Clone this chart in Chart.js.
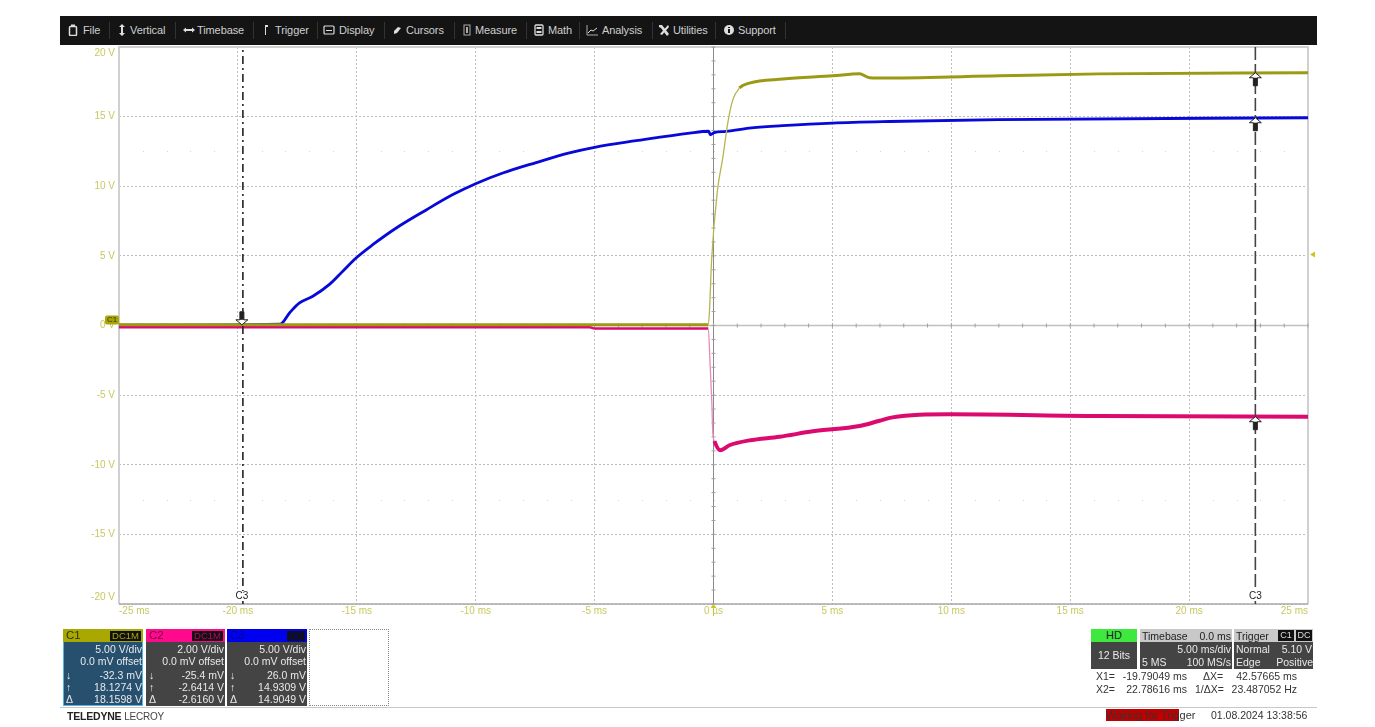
<!DOCTYPE html>
<html>
<head>
<meta charset="utf-8">
<title>Scope</title>
<script src="https://cdn.jsdelivr.net/npm/chart.js@4/dist/chart.umd.min.js"></script>
<style>
html,body{margin:0;padding:0;background:#fff;width:1375px;height:727px;overflow:hidden;font-family:"Liberation Sans",Arial,sans-serif;}
#chartBox{position:absolute;left:0;top:0;width:1375px;height:727px;}
.abs{position:absolute;white-space:nowrap;font-size:10.5px;line-height:12px;}
#bar{position:absolute;left:60px;top:16px;width:1257px;height:29px;background:#141414;color:#cfcfcf;font-size:11px;letter-spacing:-0.1px;}
#bar span{position:absolute;top:8px;}
#bar i{position:absolute;top:6px;width:1px;height:17px;background:#333;}
#bar svg{position:absolute;top:8px;width:12px;height:12px;}
.ch{position:absolute;top:629px;height:77px;background:#444;color:#e8e8e8;font-size:10.5px;line-height:12px;}
.ch .hd{position:absolute;left:0;top:0;width:100%;height:13px;font-size:11.5px;line-height:13px;}
.ch .hd b{position:absolute;left:3px;font-weight:normal;}
.ch .hd u{position:absolute;right:2px;top:2px;height:10px;line-height:10px;background:#111;font-size:9.5px;text-decoration:none;padding:0 2px;}
.ch div.r{position:absolute;right:1px;}
.ch div.l{position:absolute;left:3px;}
.sep{position:absolute;height:1px;background:#c8c8c8;top:707px;}
.box{position:absolute;background:#444;}
</style>
</head>
<body>
<div id="chartBox"><canvas id="scope" width="1375" height="727"></canvas></div>
<div id="bar"></div>
<div class="sep" style="left:60px;width:1257px"></div>
<div id="chans"></div>
<div class="abs" style="left:309px;top:629px;width:78px;height:75px;border:1px dotted #888"></div>
<div class="abs" style="left:67px;top:710px;color:#222;letter-spacing:-0.2px"><b>TELEDYNE</b> <span style="color:#444;font-size:10px">LECROY</span></div>

<div class="abs" style="left:1091px;top:629px;width:46px;height:13px;background:#3fe83f;color:#222;font-size:11px;text-align:center;line-height:13px">HD</div>
<div class="box abs" style="left:1091px;top:642px;width:46px;height:27px;line-height:27px;text-align:center;color:#e8e8e8">12 Bits</div>
<div class="box" style="left:1140px;top:629px;width:92px;height:40px"></div>
<div class="abs" style="left:1140px;top:629px;width:92px;height:13px;background:#c8c8c8"></div>
<div class="abs" style="left:1142px;top:630px;color:#222">Timebase</div>
<div class="abs" style="right:144px;top:630px;color:#222">0.0 ms</div>
<div class="abs" style="right:144px;top:643px;color:#e8e8e8">5.00 ms/div</div>
<div class="abs" style="left:1142px;top:656px;color:#e8e8e8">5 MS</div>
<div class="abs" style="right:144px;top:656px;color:#e8e8e8">100 MS/s</div>
<div class="box" style="left:1234px;top:629px;width:79px;height:40px"></div>
<div class="abs" style="left:1234px;top:629px;width:79px;height:13px;background:#c8c8c8"></div>
<div class="abs" style="left:1236px;top:630px;color:#222">Trigger</div>
<div class="abs" style="left:1278px;top:630px;width:16px;height:11px;line-height:11px;background:#111;color:#ddd;font-size:9px;text-align:center">C1</div>
<div class="abs" style="left:1296px;top:630px;width:16px;height:11px;line-height:11px;background:#111;color:#ddd;font-size:9px;text-align:center">DC</div>
<div class="abs" style="left:1236px;top:643px;color:#e8e8e8">Normal</div>
<div class="abs" style="right:63px;top:643px;color:#e8e8e8">5.10 V</div>
<div class="abs" style="left:1236px;top:656px;color:#e8e8e8">Edge</div>
<div class="abs" style="right:62px;top:656px;color:#e8e8e8">Positive</div>
<div class="abs" style="left:1096px;top:670px;color:#333">X1=</div>
<div class="abs" style="right:188px;top:670px;color:#333">-19.79049 ms</div>
<div class="abs" style="left:1203px;top:670px;color:#333">ΔX=</div>
<div class="abs" style="right:78px;top:670px;color:#333">42.57665 ms</div>
<div class="abs" style="left:1096px;top:683px;color:#333">X2=</div>
<div class="abs" style="right:188px;top:683px;color:#333">22.78616 ms</div>
<div class="abs" style="left:1195px;top:683px;color:#333">1/ΔX=</div>
<div class="abs" style="right:78px;top:683px;color:#333">23.487052 Hz</div>
<div class="abs" style="left:1106px;top:709px;width:73px;height:12px;background:#c00000"></div>
<div class="abs" style="left:1106px;top:709px;font-size:11px;color:#333">Waiting for Trigger</div>
<div class="abs" style="left:1211px;top:709px;color:#333">01.08.2024 13:38:56</div>

<script>
// tick labels
const xTicks=[-25,-20,-15,-10,-5,0,5,10,15,20,25];
const xTickLabels=['-25 ms','-20 ms','-15 ms','-10 ms','-5 ms','0 µs','5 ms','10 ms','15 ms','20 ms','25 ms'];
const yTicks=[20,15,10,5,0,-5,-10,-15,-20];

// traces, [ms, V]
const c1T=[-25,-15,-5,-0.22,-0.17,-0.08,0.17,0.39,0.6,0.81,1.09,1.51,2.92,5.02,6.14,6.56,7.4,12,16.2,25];
const c1V=[0.05,0.05,0.05,0.05,1,4.7,9.75,12.03,14.54,16.2,17.05,17.41,17.7,17.93,18.08,17.8,17.77,17.93,18.07,18.15];
const c2T=[-25,-15,-5.2,-5,-0.22,-0.14,-0.07,-0.03,0.04,0.28,0.67,1.51,2.78,4.18,6.14,6.98,7.53,8.66,9.9,16.2,25];
const c2V=[-0.12,-0.12,-0.12,-0.22,-0.22,-2.9,-5.55,-7.7,-8.3,-8.95,-8.6,-8.25,-7.99,-7.6,-7.22,-6.84,-6.6,-6.41,-6.38,-6.5,-6.55];
const c3T=[-25,-18.22,-17.83,-17.41,-16.85,-16.15,-15.59,-15.03,-14.33,-13.34,-12.08,-10.96,-9.98,-8.86,-7.46,-6.06,-5,-3.25,-1,-0.2,-0.14,0.03,0.53,1.5,2.9,5,7.4,12,25];
const c3V=[0.02,0.1,0.9,1.62,2.1,2.95,3.9,4.85,5.8,7,8.3,9.4,10.2,10.95,11.7,12.4,12.8,13.27,13.82,13.95,13.7,13.85,13.94,14.18,14.35,14.54,14.65,14.78,14.92];

// cursors
const cursor1=-19.79049;
const cursor2=22.78616;
const cursorSpan=[-20,20];
const triggerLevel=5.10;

const chans=[
 {x:63,w:80,col:'#a8a800',ink:'#33330a',name:'C1',cp:'DC1M',bg:'#27506f',vals:['5.00 V/div','0.0 mV offset','-32.3 mV','18.1274 V','18.1598 V']},
 {x:146,w:79,col:'#ff0a8c',ink:'#7a0044',name:'C2',cp:'DC1M',bg:'#444',vals:['2.00 V/div','0.0 mV offset','-25.4 mV','-2.6414 V','-2.6160 V']},
 {x:227,w:80,col:'#0000f0',ink:'#000090',name:'C3',cp:'DC',bg:'#444',vals:['5.00 V/div','0.0 mV offset','26.0 mV','14.9309 V','14.9049 V']}
];
const menu=[['File',83],['Vertical',130],['Timebase',197],['Trigger',275],['Display',339],['Cursors',406],['Measure',475],['Math',548],['Analysis',602],['Utilities',673],['Support',738]];
const menuSeps=[109,175,253,317,384,454,526,579,652,715,785];
const menuIcons=[
 [67,'<rect x="2.5" y="2.5" width="7" height="9" rx="1" fill="none" stroke="#ddd" stroke-width="1.5"/><rect x="4" y="0.5" width="4" height="2" fill="#ddd"/>'],
 [116,'<path d="M6 0L9 3H7V9H9L6 12L3 9H5V3H3Z" fill="#ddd"/>'],
 [183,'<path d="M0 6L3 3.5V5H9V3.5L12 6L9 8.5V7H3V8.5Z" fill="#ddd"/>'],
 [260,'<path d="M5 1H8V3H6V11H5Z" fill="#ddd"/>'],
 [323,'<rect x="1" y="2" width="10" height="8" rx="1" fill="none" stroke="#ddd" stroke-width="1.2"/><rect x="3" y="6" width="6" height="1" fill="#ddd"/>'],
 [391,'<path d="M3 7L7 3L10 4L6 9L3 10Z" fill="#ddd"/>'],
 [461,'<rect x="3" y="1" width="6" height="10" fill="none" stroke="#aaa"/><rect x="5" y="3" width="2" height="6" fill="#aaa"/>'],
 [533,'<rect x="2" y="1" width="8" height="10" rx="1" fill="none" stroke="#ddd" stroke-width="1.3"/><rect x="3.5" y="3" width="5" height="2" fill="#ddd"/><rect x="3.5" y="7" width="5" height="2" fill="#ddd"/>'],
 [586,'<path d="M1 1V11H12" fill="none" stroke="#aaa"/><path d="M2 9L5 6L7 7L11 4" fill="none" stroke="#ddd"/>'],
 [658,'<path d="M1 1L4 1L11 10L9 12L3 4L1 3ZM10 1L11 3L4 11L2 10Z" fill="#ddd"/>'],
 [723,'<circle cx="6" cy="6" r="5" fill="#ddd"/><rect x="5" y="5" width="2" height="4" fill="#141414"/><rect x="5" y="3" width="2" height="1" fill="#141414"/>']
];

function buildHtml(){
  const bar=document.getElementById('bar');
  menu.forEach(m=>{const s=document.createElement('span');s.textContent=m[0];s.style.left=(m[1]-60)+'px';bar.appendChild(s);});
  menuSeps.forEach(v=>{const i=document.createElement('i');i.style.left=(v-60)+'px';bar.appendChild(i);});
  menuIcons.forEach(m=>{bar.insertAdjacentHTML('beforeend','<svg viewBox="0 0 12 12" style="left:'+(m[0]-60)+'px">'+m[1]+'</svg>');});
  const box=document.getElementById('chans');
  chans.forEach((c,n)=>{
    const d=document.createElement('div');d.className='ch';d.style.left=c.x+'px';d.style.width=c.w+'px';d.style.background=c.bg;
    if(n===0){d.style.boxShadow='inset 0 0 0 1px #55b5e5';}
    const tops=[14,26,40,52,64];
    let h='<div class="hd" style="background:'+c.col+';color:'+c.ink+'"><b>'+c.name+'</b><u style="color:'+(n===0?c.col:n===1?'#c00068':'#0000a0')+'">'+c.cp+'</u></div>';
    c.vals.forEach((v,i)=>{h+='<div class="r" style="top:'+tops[i]+'px">'+v+'</div>';});
    ['↓','↑','Δ'].forEach((v,i)=>{h+='<div class="l" style="top:'+tops[i+2]+'px">'+v+'</div>';});
    d.innerHTML=h;box.appendChild(d);
  });
}

function pts(t,v){return t.map((x,i)=>({x:x,y:v[i]}));}

// cursor arrow, tip on the trace
function arrow(ctx,x,y,up){
  const s=up?1:-1;
  ctx.beginPath();
  ctx.moveTo(x,y);ctx.lineTo(x-6,y+s*5);ctx.lineTo(x-2,y+s*5);ctx.lineTo(x-2,y+s*13);ctx.lineTo(x+2,y+s*13);ctx.lineTo(x+2,y+s*5);ctx.lineTo(x+6,y+s*5);ctx.closePath();
  ctx.fillStyle='#fff';ctx.fill();
  ctx.strokeStyle='#222';ctx.lineWidth=1;ctx.stroke();
  ctx.fillStyle='#222';ctx.fillRect(x-2,up?y+5:y-13,4,8);
}

const scopeExtras={
  id:'scopeExtras',
  beforeDatasetsDraw(chart){
    const {ctx,chartArea:a,scales:{x,y}}=chart;
    ctx.save();
    // faint dots on the +-12.5 V rows
    ctx.fillStyle='#d4d4d4';
    [12.5,-12.5].forEach(v=>{for(let t=-24;t<25;t+=1){ctx.fillRect(Math.round(x.getPixelForValue(t)),Math.round(y.getPixelForValue(v)),1,1);}});
    // frame
    ctx.strokeStyle='#d0d0d0';ctx.lineWidth=2;
    ctx.beginPath();ctx.moveTo(a.left,a.bottom);ctx.lineTo(a.left,a.top);ctx.lineTo(a.right,a.top);ctx.lineTo(a.right,a.bottom);ctx.stroke();
    ctx.strokeStyle='#aaa';ctx.lineWidth=1.5;
    ctx.beginPath();ctx.moveTo(a.left,a.bottom);ctx.lineTo(a.right,a.bottom);ctx.stroke();
    // centre cross
    const x0=x.getPixelForValue(0),y0=y.getPixelForValue(0);
    ctx.strokeStyle='#8a8a8a';ctx.lineWidth=1;
    ctx.beginPath();ctx.moveTo(x0,a.top);ctx.lineTo(x0,a.bottom);ctx.stroke();
    ctx.strokeStyle='#c0c0c0';ctx.lineWidth=1.5;
    ctx.beginPath();ctx.moveTo(a.left,y0);ctx.lineTo(a.right,y0);ctx.stroke();
    ctx.strokeStyle='#a0a0a0';ctx.lineWidth=1;
    ctx.beginPath();
    for(let t=-25;t<=25;t+=1){const p=x.getPixelForValue(t);ctx.moveTo(p,y0-2);ctx.lineTo(p,y0+2);}
    for(let v=-20;v<=20;v+=1){const p=y.getPixelForValue(v);ctx.moveTo(x0-2,p);ctx.lineTo(x0+2,p);}
    ctx.stroke();
    ctx.restore();
  },
  afterDraw(chart){
    const {ctx,chartArea:a,scales:{x,y}}=chart;
    ctx.save();
    // y labels, the end ones are pulled inside the plot
    ctx.font='10px "Liberation Sans"';ctx.fillStyle='#c8c860';ctx.textAlign='right';ctx.textBaseline='middle';
    yTicks.forEach(v=>{
      let p=y.getPixelForValue(v);
      if(v===20)p+=6;
      if(v===-20)p-=7;
      ctx.fillText(v+' V',115,p);
    });
    // C1 ground tag
    const y0=y.getPixelForValue(0);
    ctx.fillStyle='#a8a800';
    ctx.beginPath();ctx.roundRect(105,y0-10,14,9,2);ctx.fill();
    ctx.fillStyle='#333';ctx.font='8px "Liberation Sans"';ctx.textAlign='center';
    ctx.fillText('C1',112,y0-5.5);
    // trigger markers
    ctx.fillStyle='#c8c820';
    const ty=y.getPixelForValue(triggerLevel);
    ctx.beginPath();ctx.moveTo(a.right+2,ty);ctx.lineTo(a.right+7,ty-3);ctx.lineTo(a.right+7,ty+3);ctx.closePath();ctx.fill();
    const x0=x.getPixelForValue(0);
    ctx.fillRect(x0-.5,a.bottom+2,1,10);
    ctx.beginPath();ctx.moveTo(x0,a.bottom);ctx.lineTo(x0-3,a.bottom+4);ctx.lineTo(x0+3,a.bottom+4);ctx.closePath();ctx.fill();
    // cursor markers
    const cp1=x.getPixelForValue(cursor1)-1,cp2=x.getPixelForValue(cursor2);
    arrow(ctx,cp1,y.getPixelForValue(0.05),false);
    arrow(ctx,cp2,y.getPixelForValue(18.15),true);
    arrow(ctx,cp2,y.getPixelForValue(14.92),true);
    arrow(ctx,cp2,y.getPixelForValue(-6.55),true);
    ctx.fillStyle='#fff';ctx.fillRect(cp1-6,a.bottom-13,12,10);ctx.fillRect(cp2-6,a.bottom-13,12,10);
    ctx.fillStyle='#222';ctx.font='10px "Liberation Sans"';ctx.textAlign='center';
    ctx.fillText('C3',cp1,a.bottom-8);
    ctx.fillText('C3',cp2,a.bottom-8);
    ctx.restore();
  }
};

function init(){
  buildHtml();
  const line=(label,t,v,color,width,order,extra)=>Object.assign({label:label,data:pts(t,v),borderColor:color,borderWidth:width,pointRadius:0,order:order},extra||{});
  const smooth={cubicInterpolationMode:'monotone'};
  new Chart(document.getElementById('scope'),{
    type:'line',
    data:{datasets:[
      line('Cursor 1',[cursor1,cursor1],cursorSpan,'#222',1.6,0,{borderDash:[8,4,2,4]}),
      line('Cursor 2',[cursor2,cursor2],cursorSpan,'#444',1.6,0,{borderDash:[13,4]}),
      line('C1',c1T,c1V,'#9c9a14',3,1,Object.assign({segment:{
        borderWidth:c=>c.p0.parsed.x>=-0.3&&c.p1.parsed.x<=1.1?1.3:3,
        borderColor:c=>c.p0.parsed.x>=-0.3&&c.p1.parsed.x<=1.1?'#b8b450':'#9c9a14'}},smooth)),
      line('C2',c2T,c2V,'#dc0a6e',4,2,Object.assign({segment:{
        borderWidth:c=>c.p0.parsed.x<-0.25?2.5:(c.p1.parsed.x<=0.05?1.3:4),
        borderColor:c=>(c.p0.parsed.x>=-0.25&&c.p1.parsed.x<=0.05)?'#e88ab8':'#dc0a6e'}},smooth)),
      line('C3',c3T,c3V,'#0808d8',2.8,3,smooth)
    ]},
    options:{
      responsive:false,animation:false,devicePixelRatio:1,
      layout:{padding:{left:119,right:67,top:47,bottom:103}},
      plugins:{legend:{display:false},tooltip:{enabled:false}},
      scales:{
        x:{type:'linear',min:-25,max:25,
          afterBuildTicks(s){s.ticks=xTicks.map(v=>({value:v}));},
          afterFit(s){s.height=20;},
          grid:{color:'#bdbdbd',drawTicks:false},
          border:{display:false,dash:[2,2]},
          ticks:{align:'inner',autoSkip:false,maxRotation:0,padding:1,color:'#c8c860',font:{family:'"Liberation Sans"',size:10},
            callback:v=>xTickLabels[xTicks.indexOf(v)]}},
        y:{type:'linear',min:-20,max:20,
          afterBuildTicks(s){s.ticks=yTicks.map(v=>({value:v}));},
          afterFit(s){s.width=0;},
          grid:{color:'#bdbdbd',drawTicks:false},
          border:{display:false,dash:[2,2]},
          ticks:{display:false}}
      }
    },
    plugins:[scopeExtras]
  });
}
init();
</script>
</body>
</html>
